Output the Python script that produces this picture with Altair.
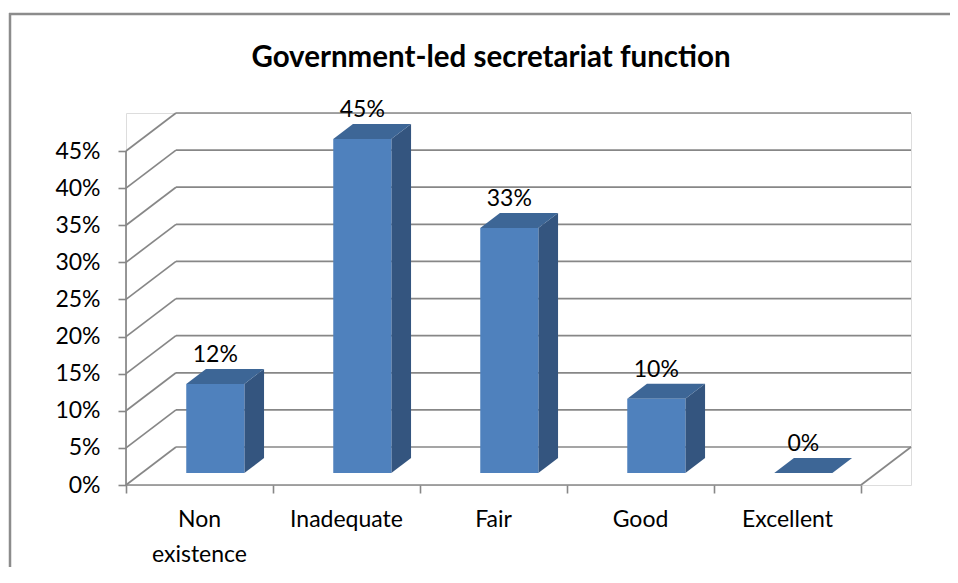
import altair as alt
import pandas as pd

# ---- data ----
categories = ["Non existence", "Inadequate", "Fair", "Good", "Excellent"]
values = [12, 45, 33, 10, 0]
value_labels = ["12%", "45%", "33%", "10%", "0%"]
y_ticks = [0, 5, 10, 15, 20, 25, 30, 35, 40, 45]
title_text = "Government-led secretariat function"

# ---- 3-D geometry / style constants ----
DEPTH_X = 0.34      # depth of the box in category units
DEPTH_Y = 5.12      # depth of the box in percent units
F_FRONT = 0.316     # depth fraction of bar front face
F_BACK = 0.71       # depth fraction of bar back face
HALF_W = 0.1976     # half bar width (category units)
GRID = "#878787"
FRONT = "#4F81BD"
SIDE = "#34557F"
TOP = "#3D6696"
FONT = "Lato"
FS = 23

n = len(categories)
y_max = max(y_ticks)
fx, fy = F_FRONT * DEPTH_X, F_FRONT * DEPTH_Y
bx, by = F_BACK * DEPTH_X, F_BACK * DEPTH_Y

xs = alt.Scale(domain=[0, n + DEPTH_X], nice=False, zero=False)
ys = alt.Scale(domain=[0, y_max + DEPTH_Y], nice=False, zero=False)
x_axis = alt.Axis(values=list(range(n + 1)), labels=False, domain=False, grid=False,
                  ticks=True, tickSize=8, tickColor=GRID, tickWidth=1.6, title=None)
y_axis = alt.Axis(values=y_ticks, labelExpr="datum.value + '%'", domain=False, grid=False,
                  ticks=True, tickSize=8, tickColor=GRID, tickWidth=1.6, title=None,
                  labelFont=FONT, labelFontSize=FS, labelColor="#000000", labelPadding=18)

# gridlines / walls
segs = []
for t in y_ticks:
    segs.append(dict(x=0, y=t, x2=DEPTH_X, y2=t + DEPTH_Y))
    segs.append(dict(x=DEPTH_X, y=t + DEPTH_Y, x2=n + DEPTH_X, y2=t + DEPTH_Y))
segs.append(dict(x=0, y=0, x2=n, y2=0))
segs.append(dict(x=0, y=0, x2=0, y2=y_max))
segs.append(dict(x=n, y=0, x2=n + DEPTH_X, y2=DEPTH_Y))
seg_df = pd.DataFrame(segs)

front_rows, side_rows, top_rows, lab_rows, cat_rows = [], [], [], [], []
for i, (c, v, lab) in enumerate(zip(categories, values, value_labels)):
    cx = i + 0.5
    front_rows.append(dict(x=cx + fx - HALF_W, x2=cx + fx + HALF_W, y=fy, y2=v + fy))
    side_rows.append(dict(bar=i, x=cx + fx + HALF_W, y=v + fy, y2=fy))
    side_rows.append(dict(bar=i, x=cx + bx + HALF_W, y=v + by, y2=by))
    top_rows.append(dict(bar=i, y=v + fy, x=cx + fx - HALF_W, x2=cx + fx + HALF_W))
    top_rows.append(dict(bar=i, y=v + by, x=cx + bx - HALF_W, x2=cx + bx + HALF_W))
    lab_rows.append(dict(x=cx + fx, y=v + by, label=lab))
    cat_rows.append(dict(x=cx, y=0, label=c.replace(" ", "\n") if c == "Non existence" else c))

X = lambda f: alt.X(f, type="quantitative", scale=xs, axis=x_axis)
Y = lambda f: alt.Y(f, type="quantitative", scale=ys, axis=y_axis)

one = pd.DataFrame({"a": [0]})
border_top = alt.Chart(one).mark_rule(color="#8c8c8c", strokeWidth=2.5).encode(
    x=alt.value(-117), x2=alt.value(830), y=alt.value(-99))
border_left = alt.Chart(one).mark_rule(color="#8c8c8c", strokeWidth=2.5).encode(
    x=alt.value(-116), y=alt.value(-100), y2=alt.value(470))

title = alt.Chart(one).mark_text(
    text=title_text, font=FONT, fontSize=29.5, fontWeight="bold", color="#000000",
    baseline="middle", align="center"
).encode(x=alt.value(365), y=alt.value(-55))

grid = alt.Chart(seg_df).mark_rule(color=GRID, strokeWidth=1.7).encode(
    x=X("x"), y=Y("y"), x2="x2", y2="y2")

side = alt.Chart(pd.DataFrame(side_rows)).mark_area(color=SIDE, orient="vertical").encode(
    x=X("x"), y=Y("y"), y2="y2", detail="bar:N")

top = alt.Chart(pd.DataFrame(top_rows)).mark_area(color=TOP, orient="horizontal").encode(
    y=Y("y"), x=X("x"), x2="x2", detail="bar:N")

front = alt.Chart(pd.DataFrame(front_rows)).mark_rect(color=FRONT).encode(
    x=X("x"), x2="x2", y=Y("y"), y2="y2")

vlabels = alt.Chart(pd.DataFrame(lab_rows)).mark_text(
    font=FONT, fontSize=FS, baseline="bottom", dy=-2, color="#000000"
).encode(x=X("x"), y=Y("y"), text="label:N")

clabels = alt.Chart(pd.DataFrame(cat_rows)).mark_text(
    font=FONT, fontSize=FS, baseline="top", dy=24, lineBreak="\n", lineHeight=35, color="#000000"
).encode(x=X("x"), y=Y("y"), text="label:N")

chart = alt.layer(border_top, border_left, title, grid, side, top, front, vlabels, clabels).properties(
    width=785, height=372,
    padding={"left": 118, "top": 105, "right": 39, "bottom": 82},
    autosize=alt.AutoSizeParams(type="none"),
).configure_view(stroke=None).configure(background="white")

chart.save("out.html", embed_options={"renderer": "svg", "actions": False})
